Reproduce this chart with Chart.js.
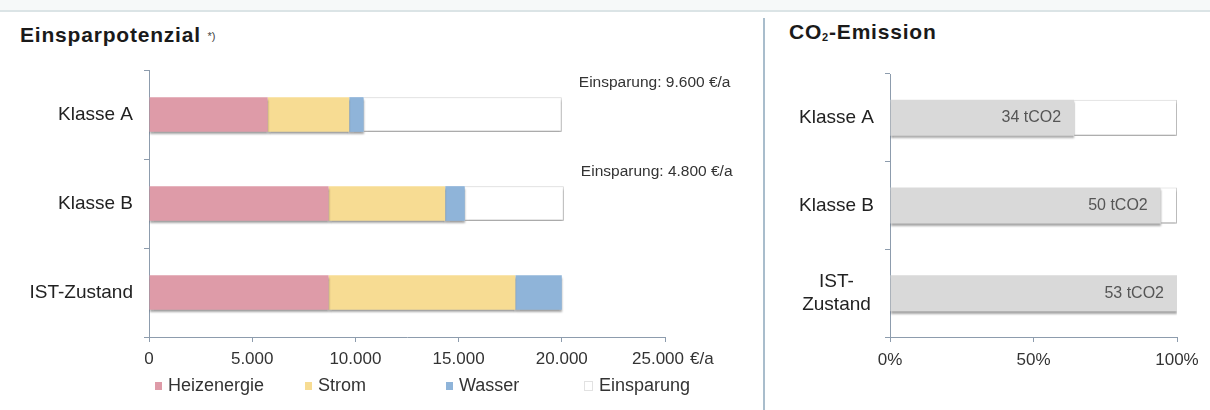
<!DOCTYPE html>
<html>
<head>
<meta charset="utf-8">
<script src="https://cdn.jsdelivr.net/npm/chart.js@4.4.1/dist/chart.umd.min.js"></script>
<style>
    body { margin: 0; width: 1210px; height: 410px; background: #fff; position: relative; overflow: hidden;
           font-family: "Liberation Sans", Arial, sans-serif; color: #222; }
    .top-band { position: absolute; left: 0; top: 0; width: 1210px; height: 10px; background: #f6f9f9; }
    .top-line { position: absolute; left: 0; top: 10px; width: 1210px; height: 2px; background: #dbe4e6; }
    .divider { position: absolute; left: 763px; top: 18px; width: 2px; height: 392px; background: #a9bdcc; }
    .title { position: absolute; font-weight: bold; font-size: 21px; letter-spacing: 0.8px; color: #1a1a1a; }
    .title small { font-size: 11px; font-weight: normal; letter-spacing: 0; color: #444; vertical-align: 2px; }
    .title sub { font-size: 11px; vertical-align: -2px; }
    .chart-box { position: absolute; top: 56px; }
    .legend { position: absolute; left: 155px; top: 375px; display: flex; font-size: 18px; color: #333; }
    .legend .item { display: flex; align-items: center; }
    .legend .sw { width: 7px; height: 8px; margin-right: 6px; }
</style>
</head>
<body>
<div class="top-band"></div>
<div class="top-line"></div>
<div class="divider"></div>

<div class="title" style="left:20px; top:23px;">Einsparpotenzial <small>*)</small></div>
<div class="title" style="left:789px; top:20px;">CO<sub>2</sub>-Emission</div>

<div class="chart-box" style="left:0;"><canvas id="costChart" width="760" height="320"></canvas></div>
<div class="chart-box" style="left:770px;"><canvas id="co2Chart" width="440" height="320"></canvas></div>

<div class="legend" id="legend"></div>

<script>
// Data
const categories = ['Klasse A', 'Klasse B', 'IST-Zustand'];
const heizenergie = [5750, 8700, 8700];
const strom = [3950, 5650, 9050];
const wasser = [700, 950, 2250];
const einsparung = [9600, 4800, 0];
const costTicks = [0, 5000, 10000, 15000, 20000, 25000];

const co2Categories = ['Klasse A', 'Klasse B', ['IST-', 'Zustand']];
const emissions = [34, 50, 53];
const shareTicks = [0, 50, 100];

const seriesNames = ['Heizenergie', 'Strom', 'Wasser', 'Einsparung'];
const seriesColors = ['#de9ba8', '#f7dc93', '#8fb4d9', '#ffffff'];

const axisColor = '#8d9cad';
const font = '"Liberation Sans", Arial, sans-serif';

// German thousands separator
const fmt = v => String(v).replace(/\B(?=(\d{3})+(?!\d))/g, '.');

// soft drop shadow under all bars
const barShadow = {
    id: 'barShadow',
    beforeDatasetsDraw(chart) {
        const c = chart.ctx;
        c.save();
        c.shadowColor = 'rgba(0,0,0,0.35)';
        c.shadowOffsetY = 2.5;
        c.shadowBlur = 2;
    },
    afterDatasetsDraw(chart) {
        chart.ctx.restore();
    }
};

// "Einsparung: x €/a" notes and the unit label
const costNotes = {
    id: 'costNotes',
    beforeDraw(chart) {
        // last tick label sits a bit to the left, making room for the unit
        const items = chart.scales.x.getLabelItems();
        const last = items[items.length - 1];
        if (last && !last._shifted) {
            last.options.translation[0] -= 7;
            last._shifted = true;
        }
    },
    afterDraw(chart) {
        const c = chart.ctx;
        const meta = chart.getDatasetMeta(3);
        c.save();
        c.font = '15.5px ' + font;
        c.fillStyle = '#333';
        c.textAlign = 'left';
        c.textBaseline = 'middle';
        einsparung.forEach((v, i) => {
            if (!v) return;
            const bar = meta.data[i];
            c.fillText('Einsparung: ' + fmt(v) + ' €/a', bar.x + 17, bar.y - bar.height / 2 - 14);
        });
        const area = chart.chartArea;
        c.font = '17px ' + font;
        c.fillText('€/a', area.right + 25, area.bottom + 22);
        c.restore();
    }
};

const co2Notes = {
    id: 'co2Notes',
    afterDatasetsDraw(chart) {
        const c = chart.ctx;
        const meta = chart.getDatasetMeta(0);
        c.save();
        c.font = '16px ' + font;
        c.fillStyle = '#555';
        c.textAlign = 'right';
        c.textBaseline = 'middle';
        emissions.forEach((v, i) => {
            const bar = meta.data[i];
            c.fillText(v + ' tCO2', bar.x - 13, bar.y);
        });
        c.restore();
    }
};

const commonY = (width, crossAlign) => ({
    stacked: true,
    offset: true,
    grid: { drawOnChartArea: false, tickLength: 5, color: axisColor, offset: true },
    border: { color: axisColor, width: 1 },
    ticks: { color: '#222', font: { family: font, size: 19 }, padding: 11, crossAlign: crossAlign },
    afterFit(scale) {
        scale.width = width;
        scale.paddingTop = 0;
        scale.paddingBottom = 0;
    }
});

const costChart = new Chart(document.getElementById('costChart'), {
    type: 'bar',
    data: {
        labels: categories,
        datasets: [heizenergie, strom, wasser, einsparung].map((d, i) => ({
            label: seriesNames[i],
            data: d,
            backgroundColor: seriesColors[i],
            borderColor: i === 3 ? '#d3d3d3' : seriesColors[i],
            borderWidth: i === 3 ? 1 : 0,
            categoryPercentage: 1,
            barPercentage: 0.39
        }))
    },
    options: {
        indexAxis: 'y',
        responsive: false,
        devicePixelRatio: 1,
        animation: false,
        layout: { padding: { top: 14, right: 95, left: 0, bottom: 0 } },
        plugins: { legend: { display: false }, tooltip: { enabled: false } },
        scales: {
            x: {
                stacked: true,
                min: costTicks[0],
                max: costTicks[costTicks.length - 1],
                afterBuildTicks(scale) { scale.ticks = costTicks.map(v => ({ value: v })); },
                grid: { drawOnChartArea: false, tickLength: 5, color: axisColor },
                border: { color: axisColor, width: 1 },
                ticks: { color: '#333', font: { family: font, size: 17 }, padding: 7, maxRotation: 0,
                         callback: v => fmt(v) },
                afterFit(scale) { scale.height = 39; }
            },
            y: commonY(149, 'near')
        }
    },
    plugins: [barShadow, costNotes]
});

const maxEmission = Math.max(...emissions);
const share = emissions.map(v => v / maxEmission * 100);
const rest = share.map(v => 100 - v);

const co2Chart = new Chart(document.getElementById('co2Chart'), {
    type: 'bar',
    data: {
        labels: co2Categories,
        datasets: [
            { label: 'CO2', data: share, backgroundColor: '#d9d9d9', borderWidth: 0,
              categoryPercentage: 1, barPercentage: 0.41 },
            { label: 'Rest', data: rest, backgroundColor: '#ffffff', borderColor: '#d3d3d3', borderWidth: 1,
              categoryPercentage: 1, barPercentage: 0.41 }
        ]
    },
    options: {
        indexAxis: 'y',
        responsive: false,
        devicePixelRatio: 1,
        animation: false,
        layout: { padding: { top: 18, right: 33, left: 0, bottom: 0 } },
        plugins: { legend: { display: false }, tooltip: { enabled: false } },
        scales: {
            x: {
                stacked: true,
                min: 0,
                max: 100,
                afterBuildTicks(scale) { scale.ticks = shareTicks.map(v => ({ value: v })); },
                grid: { drawOnChartArea: false, tickLength: 5, color: axisColor },
                border: { color: axisColor, width: 1 },
                ticks: { color: '#333', font: { family: font, size: 17 }, padding: 8, maxRotation: 0,
                         callback: v => v + '%' },
                afterFit(scale) { scale.height = 39; }
            },
            y: commonY(120, 'center')
        }
    },
    plugins: [barShadow, co2Notes]
});

// legend in fixed-width columns like the original
const legendWidths = [150, 141, 138, 140];
const legend = document.getElementById('legend');
seriesNames.forEach((name, i) => {
    const item = document.createElement('div');
    item.className = 'item';
    item.style.width = legendWidths[i] + 'px';
    const sw = document.createElement('span');
    sw.className = 'sw';
    sw.style.background = seriesColors[i];
    if (i === 3) sw.style.border = '1px solid #e2e2e2';
    const txt = document.createElement('span');
    txt.textContent = name;
    item.appendChild(sw);
    item.appendChild(txt);
    legend.appendChild(item);
});
</script>
</body>
</html>
